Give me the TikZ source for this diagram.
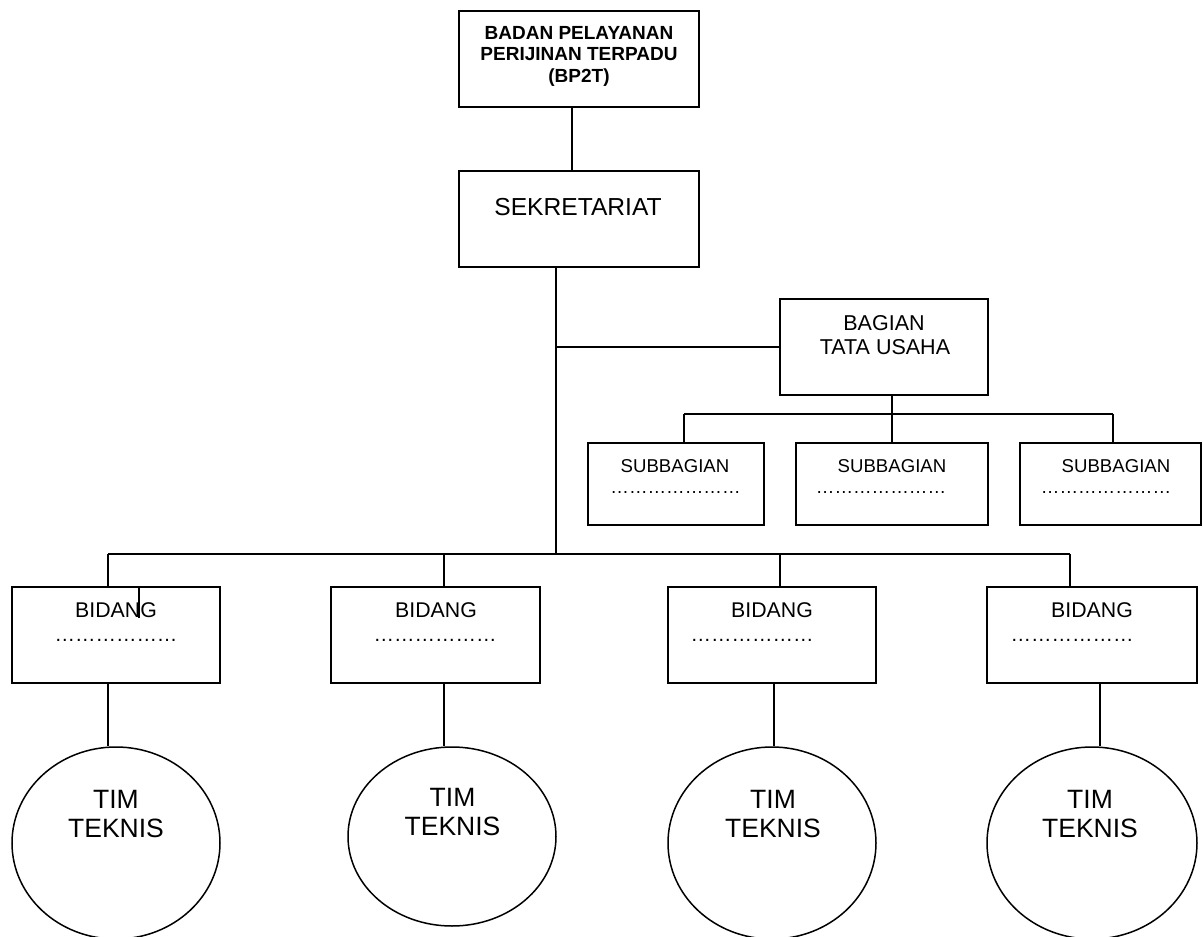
\documentclass[tikz,border=0pt]{standalone}
\usepackage{fontspec}
\setmainfont{Liberation Sans}
\usetikzlibrary{shapes.geometric}
\begin{document}
\begin{tikzpicture}[x=1pt,y=1pt,
  line width=1.8pt,
  box/.style={draw, rectangle, inner sep=0pt},
  tim/.style={draw, ellipse, inner sep=0pt, line width=1.5pt},
  lbl/.style={anchor=base, inner sep=0pt},
  ftop/.style={font=\bfseries\fontsize{19}{21}\selectfont},
  fsek/.style={font=\fontsize{24.6}{27}\selectfont},
  fbag/.style={font=\fontsize{21.5}{24}\selectfont},
  fsub/.style={font=\fontsize{18.6}{22}\selectfont},
  fbid/.style={font=\fontsize{21.3}{24}\selectfont},
  fdot/.style={font=\fontsize{20.5}{24}\selectfont},
  ftim/.style={font=\fontsize{26.5}{30}\selectfont}]
\useasboundingbox (0,0) rectangle (1203,-937);
% boxes
\node[box, minimum width=240pt, minimum height=96pt] (top) at (579,-59) {};
\node[box, minimum width=240pt, minimum height=96pt] (sek) at (579,-219) {};
\node[box, minimum width=208pt, minimum height=96pt] (bag) at (884,-347) {};
\node[box, minimum width=176pt, minimum height=82pt] (sb1) at (676,-484) {};
\node[box, minimum width=192pt, minimum height=82pt] (sb2) at (892,-484) {};
\node[box, minimum width=181pt, minimum height=82pt] (sb3) at (1110.5,-484) {};
\node[box, minimum width=208pt, minimum height=96pt] (bd1) at (116,-635) {};
\node[box, minimum width=209pt, minimum height=96pt] (bd2) at (435.5,-635) {};
\node[box, minimum width=208pt, minimum height=96pt] (bd3) at (772,-635) {};
\node[box, minimum width=210pt, minimum height=96pt] (bd4) at (1092,-635) {};
\node[tim, minimum width=208pt, minimum height=192pt] (c1) at (116,-843) {};
\node[tim, minimum width=208pt, minimum height=179pt] (c2) at (452,-836.5) {};
\node[tim, minimum width=208pt, minimum height=192pt] (c3) at (772,-843) {};
\node[tim, minimum width=210pt, minimum height=192pt] (c4) at (1092,-843) {};
% texts
\node[lbl, ftop] (t1) at (579,-39) {BADAN PELAYANAN};
\node[lbl, ftop] (t2) at (579,-60.5) {PERIJINAN TERPADU};
\node[lbl, ftop] (t3) at (579,-82) {(BP2T)};
\node[lbl, fsek] (ts) at (578,-215) {SEKRETARIAT};
\node[lbl, fbag] (tb1) at (884,-330) {BAGIAN};
\node[lbl, fbag] (tb2) at (885,-354) {TATA USAHA};
\node[lbl, fsub] (ts1) at (675,-472) {SUBBAGIAN};
\node[lbl, fsub] (ts2) at (892,-472) {SUBBAGIAN};
\node[lbl, fsub] (ts3) at (1116,-472) {SUBBAGIAN};
\node[lbl, fsub] (ds1) at (675.5,-493) {…………………};
\node[lbl, fsub] (ds2) at (881,-493) {…………………};
\node[lbl, fsub] (ds3) at (1106,-493) {…………………};
\node[lbl, fbid] (tb1x) at (116,-617) {BIDANG};
\node[lbl, fbid] (tb2x) at (436,-617) {BIDANG};
\node[lbl, fbid] (tb3x) at (772,-617) {BIDANG};
\node[lbl, fbid] (tb4x) at (1092,-617) {BIDANG};
\node[lbl, fdot] (db1) at (116,-641.5) {………………};
\node[lbl, fdot] (db2) at (435,-641.5) {………………};
\node[lbl, fdot] (db3) at (752,-641.5) {………………};
\node[lbl, fdot] (db4) at (1072,-641.5) {………………};
\node[lbl, ftim] (m1a) at (116,-808) {TIM};
\node[lbl, ftim] (m1b) at (116,-837) {TEKNIS};
\node[lbl, ftim] (m2a) at (452.5,-806) {TIM};
\node[lbl, ftim] (m2b) at (452.5,-835) {TEKNIS};
\node[lbl, ftim] (m3a) at (773,-808) {TIM};
\node[lbl, ftim] (m3b) at (773,-837) {TEKNIS};
\node[lbl, ftim] (m4a) at (1090,-808) {TIM};
\node[lbl, ftim] (m4b) at (1090,-837) {TEKNIS};
% junction coordinates
\coordinate (trunkbag) at (556,-347);
\coordinate (trunkend) at (556,-554);
\coordinate (busL) at (108,-554);
\coordinate (busR) at (1070,-554);
\coordinate (sbusL) at (684,-414);
\coordinate (sbusR) at (1113,-414);
\coordinate (sbusM) at (892,-414);
% connectors
\draw ([xshift=-7pt]top.south) -- ([xshift=-7pt]sek.north);
\draw ([xshift=-23pt]sek.south) -- (trunkend);
\draw (trunkbag) -- (bag.west);
\draw ([xshift=8pt]bag.south) -- (sbusM);
\draw (sbusL) -- (sbusR);
\draw (sbusL) -- ([xshift=8pt]sb1.north);
\draw (sbusM) -- (sb2.north);
\draw (sbusR) -- ([xshift=2.5pt]sb3.north);
\draw (busL) -- (busR);
\draw (busL) -- ([xshift=-8pt]bd1.north);
\draw ([xshift=8.5pt]bd2.north |- busL) -- ([xshift=8.5pt]bd2.north);
\draw ([xshift=8pt]bd3.north |- busL) -- ([xshift=8pt]bd3.north);
\draw (busR) -- ([xshift=-22pt]bd4.north);
\draw[line width=1.4pt] ([xshift=23pt]bd1.north) -- ++(0,-32);
\draw[line width=1.5pt] ([xshift=-8pt]bd1.south) -- ([xshift=-8pt]c1.north);
\draw[line width=1.5pt] ([xshift=8.5pt]bd2.south) -- ([xshift=-8pt]c2.north);
\draw[line width=1.5pt] ([xshift=2pt]bd3.south) -- ([xshift=2pt]c3.north);
\draw[line width=1.5pt] ([xshift=8pt]bd4.south) -- ([xshift=8pt]c4.north);
\end{tikzpicture}
\end{document}
